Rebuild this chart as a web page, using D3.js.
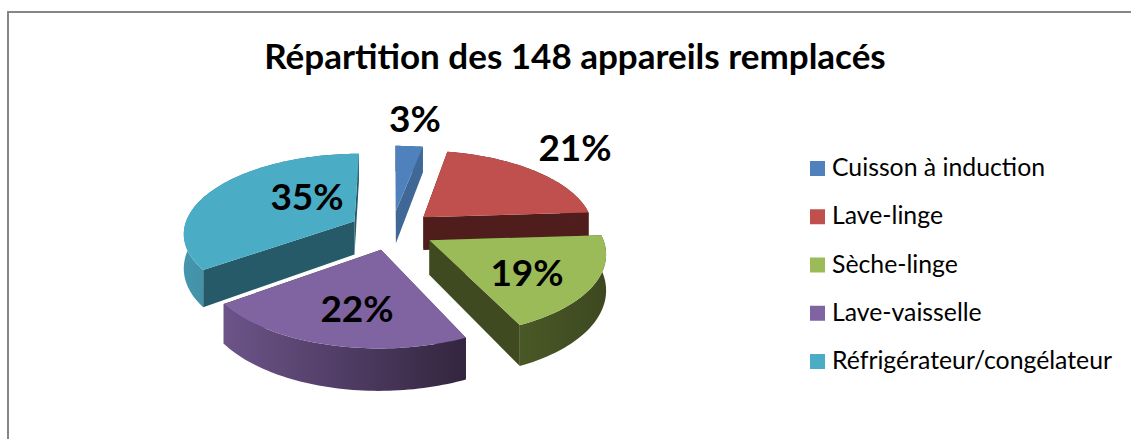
<!DOCTYPE html>
<html lang="fr">
<head>
    <title>Répartition des 148 appareils remplacés</title>
    <meta charset="utf-8"/>
    <script src="https://d3js.org/d3.v7.min.js"></script>
    <style>
        html, body { margin: 0; padding: 0; background: #fff; }
        svg { display: block; }
        text { font-family: Lato, "Open Sans", sans-serif; fill: #000; }
    </style>
</head>
<body>
<div id="viz">
    <svg width="1131" height="439"></svg>
</div>

<script type="text/javascript">

    // data
    const title = "Répartition des 148 appareils remplacés";
    const categories = ["Cuisson à induction", "Lave-linge", "Sèche-linge", "Lave-vaisselle", "Réfrigérateur/congélateur"];
    const percents = [3, 21, 19, 22, 35];

    // colours: top face, cut face, rim from left to right
    const topColors = ["#4f81bd", "#c0504d", "#9bbb59", "#8064a2", "#4bacc6"];
    const cutColors = ["#3f6897", "#4f1d1c", "#3f4a20", "#35263f", "#275a69"];
    const rimLeft = ["#3f6897", "#5a2322", "#4a5826", "#6c5489", "#4596ad"];
    const rimRight = ["#3f6897", "#4f1d1c", "#3d4820", "#33253f", "#2f6b7c"];

    // layout
    const centerX = 392, centerY = 230;
    const radiusX = 171, radiusY = 79;
    const perspective = 0.138;
    const explode = 0.25;
    const depth = 34;

    // painter order, back to front
    const drawOrder = [0, 4, 1, 2, 3];

    // label centres
    const labelX = [415, 575, 527, 357, 307];
    const labelY = [117, 146, 271, 307, 195];

    const svg = d3.select("svg");
    const defs = svg.append("defs");

    // frame of the chart area, bottom is cut off by the picture
    svg.append("path")
        .attr("d", "M8,439V12H1131")
        .attr("fill", "none")
        .attr("stroke", "#868686")
        .attr("stroke-width", 2);

    svg.append("text")
        .attr("x", 575)
        .attr("y", 69)
        .attr("text-anchor", "middle")
        .style("font-size", "35px")
        .style("font-weight", "bold")
        .text(title);

    const slices = d3.pie().sort(null).startAngle(0).endAngle(2 * Math.PI)(percents);

    // pie plane to screen, u to the right and v towards the viewer
    function project(u, v, down) {
        const s = 1 / (1 - perspective * v);
        return [
            centerX + radiusX * u * s,
            centerY + radiusY * v * s + down * depth * (1 + 0.2 * v)
        ];
    }

    function rimPoint(slice, angle, r, down) {
        const mid = (slice.startAngle + slice.endAngle) / 2;
        const u = explode * Math.sin(mid) + r * Math.sin(angle);
        const v = -explode * Math.cos(mid) - r * Math.cos(angle);
        return project(u, v, down);
    }

    function rimAngles(slice) {
        const n = Math.ceil((slice.endAngle - slice.startAngle) * 40);
        return d3.range(n + 1).map(i => slice.startAngle + (slice.endAngle - slice.startAngle) * i / n);
    }

    const line = d3.line().curve(d3.curveLinearClosed);

    drawOrder.forEach(i => {
        const slice = slices[i];
        const g = svg.append("g").attr("class", "slice");
        const angles = rimAngles(slice);

        // cut faces
        [slice.startAngle, slice.endAngle].forEach(a => {
            g.append("path")
                .attr("d", line([rimPoint(slice, a, 0, 0), rimPoint(slice, a, 1, 0), rimPoint(slice, a, 1, 1), rimPoint(slice, a, 0, 1)]))
                .attr("fill", cutColors[i]);
        });

        // rim
        const gradId = "rim" + i;
        const grad = defs.append("linearGradient").attr("id", gradId);
        grad.append("stop").attr("offset", "0%").attr("stop-color", rimLeft[i]);
        grad.append("stop").attr("offset", "100%").attr("stop-color", rimRight[i]);

        const outer = angles.map(a => rimPoint(slice, a, 1, 0));
        const lower = angles.map(a => rimPoint(slice, a, 1, 1)).reverse();
        g.append("path")
            .attr("d", line(outer.concat(lower)))
            .attr("fill", "url(#" + gradId + ")");

        // top face
        g.append("path")
            .attr("d", line([rimPoint(slice, 0, 0, 0)].concat(outer)))
            .attr("fill", topColors[i]);
    });

    // percent labels
    svg.selectAll("text.pct")
        .data(percents).enter()
        .append("text")
        .attr("class", "pct")
        .attr("x", (d, i) => labelX[i])
        .attr("y", (d, i) => labelY[i])
        .attr("text-anchor", "middle")
        .attr("dominant-baseline", "central")
        .style("font-size", "37px")
        .style("font-weight", "bold")
        .text(d => d + "%");

    // legend
    const legendY = d3.scalePoint().domain(categories).range([168.5, 361.5]);

    const legend = svg.selectAll("g.legend")
        .data(categories).enter()
        .append("g")
        .attr("class", "legend")
        .attr("transform", d => "translate(810," + legendY(d) + ")");

    legend.append("rect")
        .attr("x", 0)
        .attr("y", -7.5)
        .attr("width", 15)
        .attr("height", 15)
        .attr("fill", (d, i) => topColors[i]);

    legend.append("text")
        .attr("x", 22)
        .attr("y", -2)
        .attr("dominant-baseline", "central")
        .style("font-size", "24.8px")
        .text(d => d);

</script>
</body>
</html>
